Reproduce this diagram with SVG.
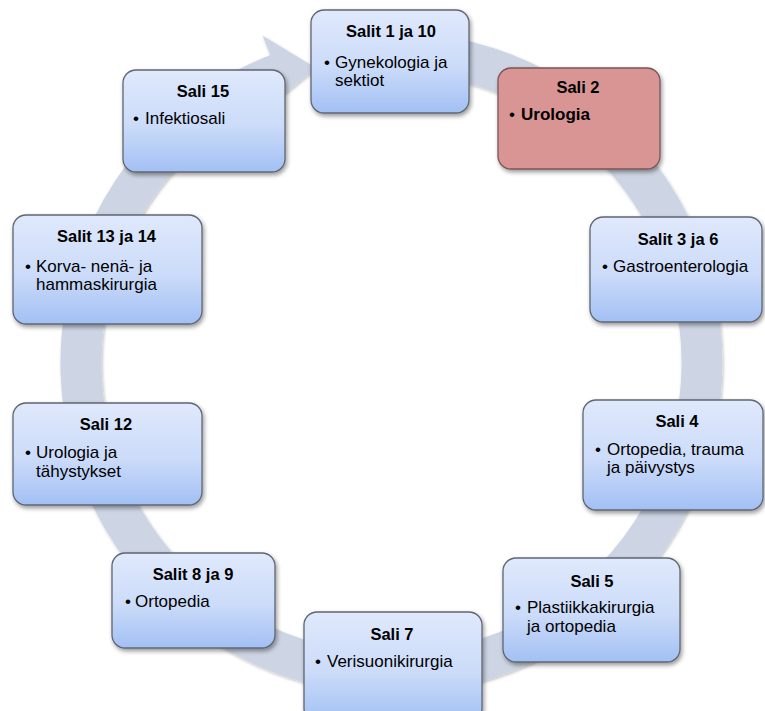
<svg xmlns="http://www.w3.org/2000/svg" width="765" height="711" viewBox="0 0 765 711">
  <defs>
    <linearGradient id="boxFill" x1="0" y1="0" x2="0" y2="1">
      <stop offset="0" stop-color="#e0e9fc"/>
      <stop offset="0.55" stop-color="#cbdbf9"/>
      <stop offset="1" stop-color="#a2c0f4"/>
    </linearGradient>
    <filter id="shadow" x="-10%" y="-10%" width="125%" height="130%">
      <feDropShadow dx="1.5" dy="2.5" stdDeviation="2" flood-color="#000" flood-opacity="0.4"/>
    </filter>
    <filter id="ringShadow" x="-5%" y="-5%" width="110%" height="110%">
      <feDropShadow dx="1" dy="1.5" stdDeviation="1.5" flood-color="#000" flood-opacity="0.25"/>
    </filter>
  </defs>
  <style>
    .box { fill: url(#boxFill); stroke: #5f6672; stroke-width: 1.3; filter: url(#shadow); }
    .hot { fill: #d99594; stroke: #7a5656; stroke-width: 1.3; filter: url(#shadow); }
    text { font-family: "Liberation Sans", Arial, sans-serif; font-size: 17px; fill: #000; }
    .title { font-weight: bold; font-size: 16.5px; text-anchor: middle; }
    .dot { text-anchor: middle; }
    .strong { font-weight: bold; }
  </style>

  <!-- circular arrow running clockwise behind the rooms -->
  <g id="connectors">
    <path d="M391.5,32 A331,331 0 1 1 270.2,55 L262.5,35.5 L316,68 L285.2,93.2 A290,290 0 1 0 391.5,73 Z"
          fill="#cdd5e4" filter="url(#ringShadow)"/>
  </g>

  <g id="sali-1-10">
    <rect class="box" x="311" y="10" width="158" height="103" rx="13"/>
    <text class="title" x="391" y="37">Salit 1 ja 10</text>
    <text class="dot" x="327" y="68">•</text>
    <text x="335" y="68">Gynekologia ja</text>
    <text x="335" y="86">sektiot</text>
  </g>

  <g id="sali-2">
    <rect class="hot" x="498" y="68" width="162" height="101" rx="13"/>
    <text class="title" x="578" y="93">Sali 2</text>
    <text class="dot" x="512" y="120">•</text>
    <text class="strong" x="521" y="120">Urologia</text>
  </g>

  <g id="sali-3-6">
    <rect class="box" x="590" y="217" width="172" height="105" rx="13"/>
    <text class="title" x="678" y="245">Salit 3 ja 6</text>
    <text class="dot" x="605" y="272">•</text>
    <text x="613" y="272">Gastroenterologia</text>
  </g>

  <g id="sali-4">
    <rect class="box" x="583" y="400" width="180" height="110" rx="13"/>
    <text class="title" x="677" y="427">Sali 4</text>
    <text class="dot" x="598" y="455">•</text>
    <text x="607" y="455">Ortopedia, trauma</text>
    <text x="607" y="473">ja päivystys</text>
  </g>

  <g id="sali-5">
    <rect class="box" x="503" y="558" width="177" height="104" rx="13"/>
    <text class="title" x="592" y="587">Sali 5</text>
    <text class="dot" x="518" y="613">•</text>
    <text x="527" y="613">Plastiikkakirurgia</text>
    <text x="527" y="632">ja ortopedia</text>
  </g>

  <g id="sali-7">
    <rect class="box" x="304" y="612" width="178" height="110" rx="13"/>
    <text class="title" x="392" y="640">Sali 7</text>
    <text class="dot" x="318" y="667">•</text>
    <text x="327" y="667">Verisuonikirurgia</text>
  </g>

  <g id="sali-8-9">
    <rect class="box" x="112" y="553" width="163" height="95" rx="13"/>
    <text class="title" x="193" y="580">Salit 8 ja 9</text>
    <text class="dot" x="128" y="607">•</text>
    <text x="135" y="607">Ortopedia</text>
  </g>

  <g id="sali-12">
    <rect class="box" x="13" y="403" width="189" height="102" rx="13"/>
    <text class="title" x="106" y="430">Sali 12</text>
    <text class="dot" x="28" y="458">•</text>
    <text x="36" y="458">Urologia ja</text>
    <text x="36" y="477">tähystykset</text>
  </g>

  <g id="sali-13-14">
    <rect class="box" x="13" y="215" width="189" height="109" rx="13"/>
    <text class="title" x="106.5" y="242">Salit 13 ja 14</text>
    <text class="dot" x="28" y="272">•</text>
    <text x="36" y="272">Korva- nenä- ja</text>
    <text x="36" y="290">hammaskirurgia</text>
  </g>

  <g id="sali-15">
    <rect class="box" x="123" y="70" width="162" height="102" rx="13"/>
    <text class="title" x="203" y="97">Sali 15</text>
    <text class="dot" x="136" y="124">•</text>
    <text x="145" y="124">Infektiosali</text>
  </g>
</svg>
